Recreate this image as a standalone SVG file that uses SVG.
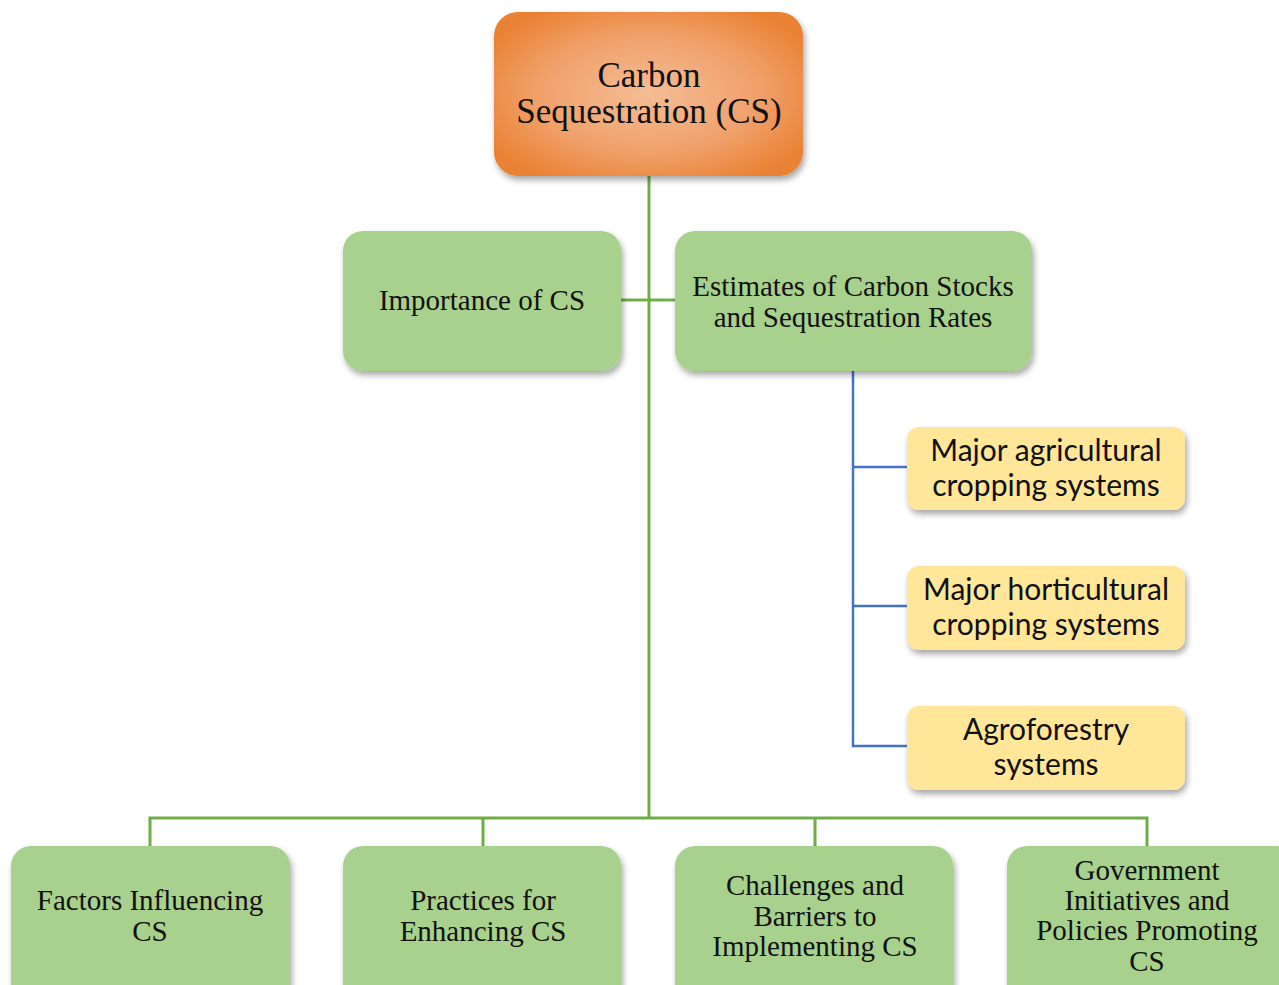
<svg xmlns="http://www.w3.org/2000/svg" width="1279" height="985" viewBox="0 0 1279 985">
<defs>
<radialGradient id="og" cx="50%" cy="50%" r="60%">
<stop offset="0" stop-color="#f5bd95"/>
<stop offset="0.6" stop-color="#f0a06a"/>
<stop offset="1" stop-color="#ea8234"/>
</radialGradient>
<filter id="sh" x="-10%" y="-10%" width="125%" height="130%">
<feDropShadow dx="2" dy="4" stdDeviation="3" flood-color="#000" flood-opacity="0.35"/>
</filter>
</defs>
<style>
.g{fill:#a9d18e;filter:url(#sh)}
.y{fill:#ffe699;filter:url(#sh)}
.s{font-family:"Liberation Serif","Times New Roman",serif;font-size:29px;fill:#111;text-anchor:middle}
.c{font-family:"Lato","Open Sans",sans-serif;font-size:30px;fill:#111;text-anchor:middle}
.gl{stroke:#70ad47;stroke-width:3;fill:none}
.bl{stroke:#4472c4;stroke-width:2.5;fill:none}
</style>
<rect width="1279" height="985" fill="#fff"/>
<g id="connectors">
<path class="gl" d="M649 176V818M621 300H675M150 846V818H1147V846M483 818V846M815 818V846"/>
<path class="bl" d="M853 371V746H907M853 467H907M853 606H907"/>
</g>
<g id="root">
<rect x="494" y="12" width="309" height="164" rx="24" fill="url(#og)" filter="url(#sh)"/>
<text class="s" x="649" y="87" style="font-size:35px">Carbon</text>
<text class="s" x="649" y="123" style="font-size:35px">Sequestration (CS)</text>
</g>
<g id="importance">
<rect class="g" x="343" y="231" width="278" height="140" rx="20"/>
<text class="s" x="482" y="310">Importance of CS</text>
</g>
<g id="estimates">
<rect class="g" x="675" y="231" width="357" height="140" rx="20"/>
<text class="s" x="853" y="296">Estimates of Carbon Stocks</text>
<text class="s" x="853" y="327">and Sequestration Rates</text>
</g>
<g id="agri">
<rect class="y" x="907" y="427" width="278" height="83" rx="12"/>
<text class="c" x="1046" y="461">Major agricultural</text>
<text class="c" x="1046" y="496">cropping systems</text>
</g>
<g id="horti">
<rect class="y" x="907" y="566" width="278" height="84" rx="12"/>
<text class="c" x="1046" y="600">Major horticultural</text>
<text class="c" x="1046" y="635">cropping systems</text>
</g>
<g id="agroforestry">
<rect class="y" x="907" y="706" width="278" height="84" rx="12"/>
<text class="c" x="1046" y="740">Agroforestry</text>
<text class="c" x="1046" y="775">systems</text>
</g>
<g id="factors">
<rect class="g" x="11" y="846" width="279" height="160" rx="20"/>
<text class="s" x="150" y="910">Factors Influencing</text>
<text class="s" x="150" y="941">CS</text>
</g>
<g id="practices">
<rect class="g" x="343" y="846" width="278" height="160" rx="20"/>
<text class="s" x="483" y="910">Practices for</text>
<text class="s" x="483" y="941">Enhancing CS</text>
</g>
<g id="challenges">
<rect class="g" x="675" y="846" width="278" height="160" rx="20"/>
<text class="s" x="815" y="895">Challenges and</text>
<text class="s" x="815" y="926">Barriers to</text>
<text class="s" x="815" y="956">Implementing CS</text>
</g>
<g id="government">
<rect class="g" x="1007" y="846" width="290" height="160" rx="20"/>
<text class="s" x="1147" y="880">Government</text>
<text class="s" x="1147" y="910">Initiatives and</text>
<text class="s" x="1147" y="940">Policies Promoting</text>
<text class="s" x="1147" y="971">CS</text>
</g>
</svg>
